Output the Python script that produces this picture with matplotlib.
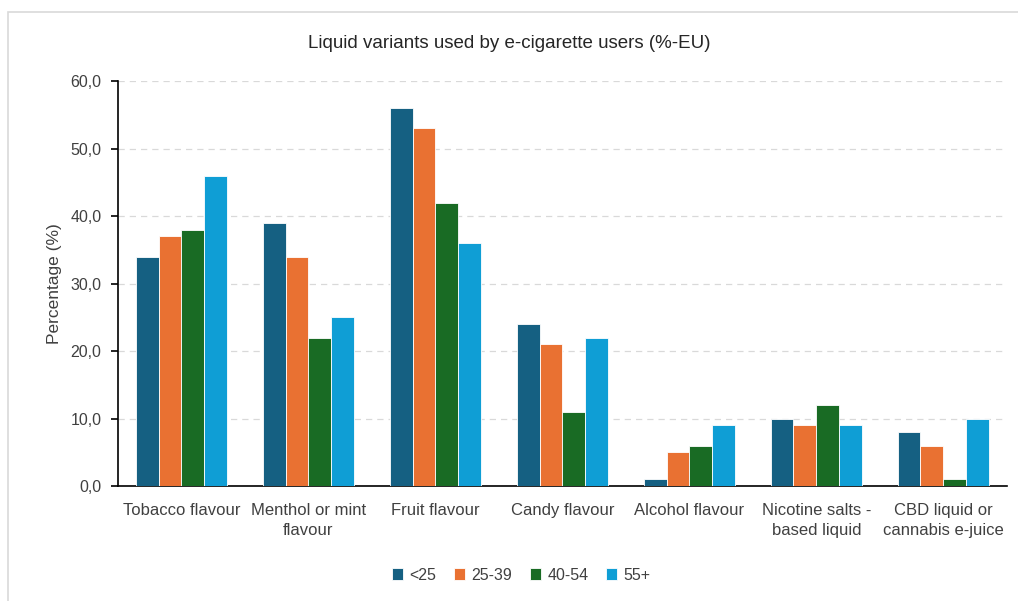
import numpy as np
import matplotlib.pyplot as plt
from matplotlib.patches import Rectangle

categories = ['Tobacco flavour', 'Menthol or mint\nflavour', 'Fruit flavour', 'Candy flavour',
              'Alcohol flavour', 'Nicotine salts -\nbased liquid', 'CBD liquid or\ncannabis e-juice']
age_groups = ['<25', '25-39', '40-54', '55+']
under_25 = [34, 39, 56, 24, 1, 10, 8]
age_25_39 = [37, 34, 53, 21, 5, 9, 6]
age_40_54 = [38, 22, 42, 11, 6, 12, 1]
age_55_plus = [46, 25, 36, 22, 9, 9, 10]
yticks = [0, 10, 20, 30, 40, 50, 60]

series = [under_25, age_25_39, age_40_54, age_55_plus]
colors = ['#156082', '#E97132', '#196B24', '#0F9ED5']

plt.rcParams['font.family'] = ['Liberation Sans', 'DejaVu Sans']

fig = plt.figure(figsize=(10.18, 6.01), dpi=100)
ax = fig.add_axes([0.1159, 0.1913, 0.8731, 0.6739])

x = np.arange(len(categories))
w = 0.18
for i, (vals, name, c) in enumerate(zip(series, age_groups, colors)):
    ax.bar(x + (i - 1.5) * w, vals, width=w, color=c, edgecolor='white',
           linewidth=0.6, label=name, zorder=3)

ax.set_xlim(-0.5, len(categories) - 0.5)
ax.set_ylim(0, 60)
ax.set_yticks(yticks)
ax.set_yticklabels([f'{v:.1f}'.replace('.', ',') for v in yticks])
ax.set_xticks(x)
ax.set_xticklabels(categories, fontsize=12, color='#404040', linespacing=1.45)
ax.tick_params(axis='x', length=0, pad=12)
ax.tick_params(axis='y', labelsize=11.5, labelcolor='#404040', length=5, width=1.2, pad=7)
ax.yaxis.grid(True, linestyle=(0, (5, 4)), color='#d9d9d9', linewidth=0.9, zorder=0)
for s in ['top', 'right']:
    ax.spines[s].set_visible(False)
ax.spines['left'].set_linewidth(1.2)
ax.spines['bottom'].set_linewidth(1.2)
ax.set_ylabel('Percentage (%)', fontsize=12.5, color='#404040', labelpad=6)

fig.text(0.5, 0.928, 'Liquid variants used by e-cigarette users (%-EU)',
         ha='center', va='center', fontsize=13.5, color='#262626')

ax.legend(loc='center', bbox_to_anchor=(0.512, 0.043), bbox_transform=fig.transFigure,
          ncol=4, frameon=False, fontsize=11.5, handlelength=0.7, handleheight=0.7,
          handletextpad=0.4, columnspacing=1.1, labelcolor='#404040')

fig.patches.append(Rectangle((8 / 1018, -0.1), 1.2, 1 - 12 / 601 + 0.1,
                             transform=fig.transFigure, fill=False,
                             edgecolor='#d9d9d9', linewidth=1.2))

fig.savefig('out.png', dpi=100)
